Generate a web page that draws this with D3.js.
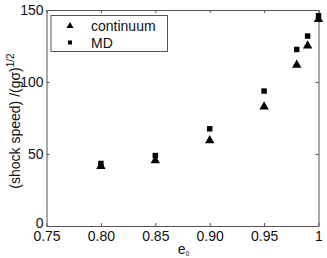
<!DOCTYPE html>
<html>
<head>
<meta charset="utf-8">
<script src="https://cdn.jsdelivr.net/npm/d3@7"></script>
<style>
  body { margin: 0; background: #fff; }
  svg text { font-family: 'Liberation Sans', Arial, sans-serif; }
</style>
</head>
<body>
<div id="chart"></div>
<script>
// e0 values and shock speeds
const e0 = [0.80, 0.85, 0.90, 0.95, 0.98, 0.99, 1.00]
const continuum = [41.5, 45.4, 59.4, 82.8, 111.8, 125.2, 143.5]
const md = [43.4, 48.9, 67.5, 93.7, 122.6, 131.9, 146]
const xTicks = [0.75, 0.80, 0.85, 0.90, 0.95, 1]
const yTicks = [0, 50, 100, 150]

const W = 327, H = 258
const m = { left: 46.5, right: 8.5, top: 10, bottom: 32 }

const svg = d3.select('#chart').append('svg')
  .attr('width', W).attr('height', H)

const x = d3.scaleLinear().domain([0.75, 1]).range([m.left, W - m.right])
const y = d3.scaleLinear().domain([0, 150]).range([H - m.bottom, m.top])

const axisCol = '#555'
const fmtX = d => d === 1 ? '1' : d3.format('.2f')(d)

// bottom / left axes with inward ticks
const gx = svg.append('g').attr('transform', `translate(0,${y(0)})`)
  .call(d3.axisBottom(x).tickValues(xTicks).tickFormat(fmtX).tickSizeInner(-3).tickSizeOuter(0).tickPadding(5))
const gy = svg.append('g').attr('transform', `translate(${x(0.75)},0)`)
  .call(d3.axisLeft(y).tickValues(yTicks).tickSizeInner(-3).tickSizeOuter(0).tickPadding(3))
// top / right mirror ticks
const gt = svg.append('g').attr('transform', `translate(0,${y(150)})`)
  .call(d3.axisTop(x).tickValues(xTicks).tickFormat('').tickSizeInner(-3).tickSizeOuter(0))
const gr = svg.append('g').attr('transform', `translate(${x(1)},0)`)
  .call(d3.axisRight(y).tickValues(yTicks).tickFormat('').tickSizeInner(-3).tickSizeOuter(0))

;[gx, gy, gt, gr].forEach(g => {
  g.selectAll('path').attr('stroke', axisCol)
  g.selectAll('line').attr('stroke', axisCol)
  g.selectAll('text').attr('fill', '#111').style('font-size', '14px')
    .style('font-family', "'Liberation Sans', Arial, sans-serif")
})
// the "0" label sits a little above the axis line
gy.selectAll('.tick').filter(d => d === 0).select('text').attr('dy', '0.1em')

// y axis label
svg.append('text')
  .attr('transform', `translate(20,${(y(0) + y(150)) / 2 + 3}) rotate(-90)`)
  .attr('text-anchor', 'middle')
  .style('font-size', '14px').attr('fill', '#111')
  .html('(shock speed) /(gσ)<tspan dy="-6" font-size="10px">1/2</tspan>')

// x axis label
svg.append('text')
  .attr('x', (x(0.75) + x(1)) / 2 + 1).attr('y', 254)
  .attr('text-anchor', 'middle')
  .style('font-size', '14px').attr('fill', '#111')
  .html('e<tspan dy="2" font-size="7px">0</tspan>')

const tri = d3.symbol().type(d3.symbolTriangle)
const sq = d3.symbol().type(d3.symbolSquare)

const plot = svg.append('g')
plot.selectAll('.c').data(e0).join('path')
  .attr('class', 'c')
  .attr('d', tri.size(38))
  .attr('transform', (d, i) => `translate(${x(d)},${y(continuum[i])})`)
  .attr('fill', '#000')
plot.selectAll('.m').data(e0).join('path')
  .attr('class', 'm')
  .attr('d', sq.size(30))
  .attr('transform', (d, i) => `translate(${x(d)},${y(md[i])})`)
  .attr('fill', '#000')

// legend
const lg = svg.append('g')
lg.append('rect')
  .attr('x', 51).attr('y', 15.5).attr('width', 116.5).attr('height', 36)
  .attr('fill', '#fff').attr('stroke', axisCol)
const items = [{ name: 'continuum', sym: tri.size(22)() }, { name: 'MD', sym: sq.size(16)() }]
items.forEach((it, i) => {
  const cy = 26 + i * 16.5
  lg.append('path').attr('d', it.sym).attr('transform', `translate(70,${cy})`).attr('fill', '#000')
  lg.append('text').attr('x', 91).attr('y', cy + 5)
    .style('font-size', '14px').attr('fill', '#111').text(it.name)
})
</script>
</body>
</html>
